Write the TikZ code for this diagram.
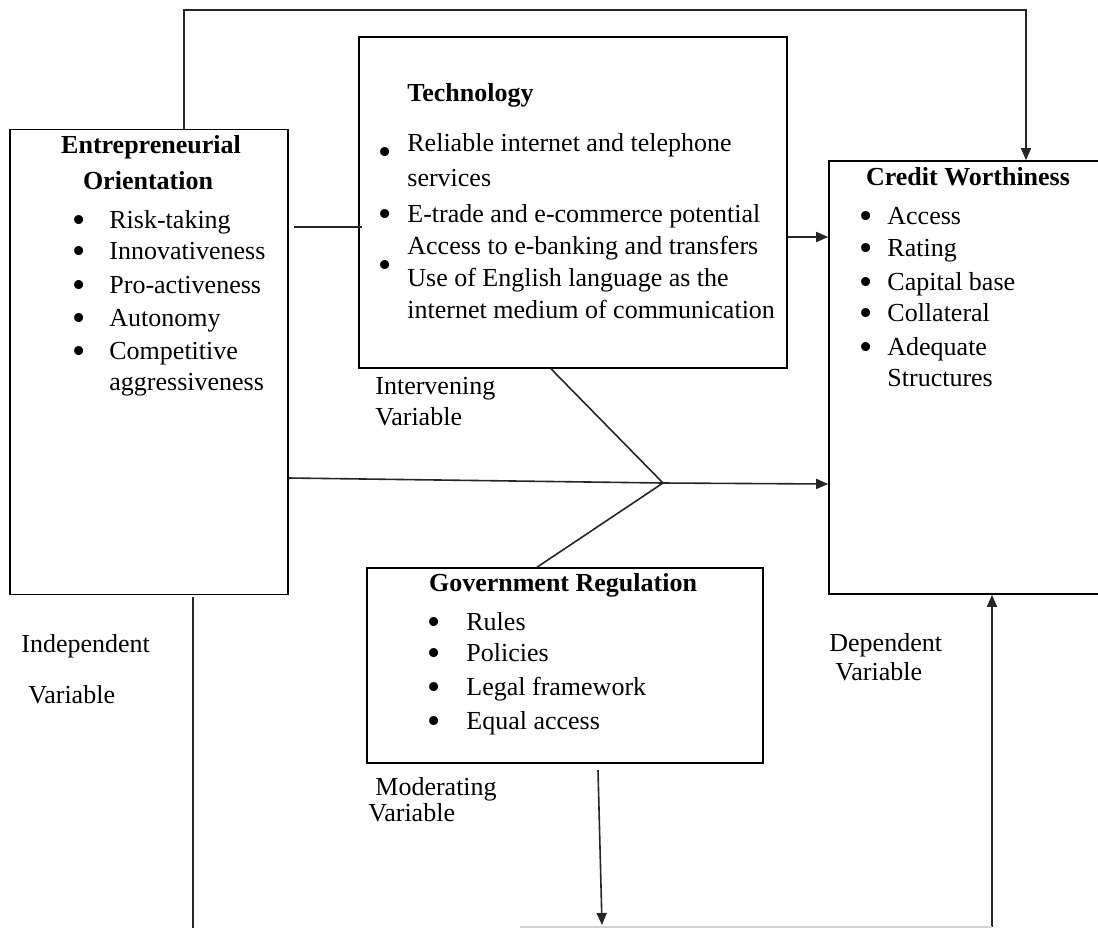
\documentclass[tikz,border=0pt]{standalone}
\usepackage{fontspec}
\setmainfont{Liberation Serif}
\usetikzlibrary{arrows.meta,positioning}
\newcommand{\bul}{\raisebox{-2.2pt}[0pt][0pt]{\scalebox{1.45}{\textbullet}}}
\newcommand{\itm}[2]{\makebox[#1][l]{\bul}#2}

\begin{document}
\begin{tikzpicture}[x=0.5pt,y=-0.5pt,
		box/.style={draw,line width=0.8pt,inner sep=0pt},
		txt/.style={anchor=base west,inner sep=0pt,font=\fontsize{13}{16}\selectfont},
		head/.style={anchor=base,inner sep=0pt,font=\fontsize{13}{16}\selectfont\bfseries},
		link/.style={line width=0.8pt,black!85},
		>={Triangle[length=6pt,width=5pt]}]
		\useasboundingbox (0,0) rectangle (1098,928);
		\clip (0,0) rectangle (1098,928);
		% boxes
		\node[box,minimum width=139pt,minimum height=232.5pt] (eo) at (149,362) {};
		\node[box,minimum width=214pt,minimum height=165.5pt] (tech) at (573,202.5) {};
		\node[box,minimum width=140.5pt,minimum height=216.5pt] (cw) at (969.5,377.5) {};
		\node[box,minimum width=198pt,minimum height=97.5pt] (gr) at (565,665.5) {};
		% entrepreneurial orientation
		\node[head] (eoA) at (151,153) {Entrepreneurial};
		\node[head] (eoB) at (148,189) {Orientation};
		\node[txt] (eo1) at (72,228) {\itm{18.5pt}{Risk-taking}};
		\node[txt] (eo2) at (72,259) {\itm{18.5pt}{Innovativeness}};
		\node[txt] (eo3) at (72,293) {\itm{18.5pt}{Pro-activeness}};
		\node[txt] (eo4) at (72,326) {\itm{18.5pt}{Autonomy}};
		\node[txt] (eo5) at (72,359) {\itm{18.5pt}{Competitive}};
		\node[txt] (eo6) at (109,390) {aggressiveness};
		% technology
		\node[head,anchor=base west] (teA) at (407,101) {Technology};
		\node[txt] (tb1) at (378,160) {\bul};
		\node[txt] (tb2) at (378,222) {\bul};
		\node[txt] (tb3) at (378,273) {\bul};
		\node[txt] (te1) at (407,151) {Reliable internet and telephone};
		\node[txt] (te2) at (407,186) {services};
		\node[txt] (te3) at (407,222) {E-trade and e-commerce potential};
		\node[txt] (te4) at (407,254) {Access to e-banking and transfers};
		\node[txt] (te5) at (407,286) {Use of English language as the};
		\node[txt] (te6) at (407,318) {internet medium of communication};
		% credit worthiness
		\node[head] (cwA) at (968,185) {Credit Worthiness};
		\node[txt] (cw1) at (859,224) {\itm{14pt}{Access}};
		\node[txt] (cw2) at (859,256) {\itm{14pt}{Rating}};
		\node[txt] (cw3) at (859,290) {\itm{14pt}{Capital base}};
		\node[txt] (cw4) at (859,321) {\itm{14pt}{Collateral}};
		\node[txt] (cw5) at (859,355) {\itm{14pt}{Adequate}};
		\node[txt] (cw6) at (887,386) {Structures};
		% government regulation
		\node[head] (grA) at (563,591) {Government Regulation};
		\node[txt] (gr1) at (427,630) {\itm{19.5pt}{Rules}};
		\node[txt] (gr2) at (427,661) {\itm{19.5pt}{Policies}};
		\node[txt] (gr3) at (427,695) {\itm{19.5pt}{Legal framework}};
		\node[txt] (gr4) at (427,729) {\itm{19.5pt}{Equal access}};
		% variable labels
		\node[txt] (ivA) at (375,394) {Intervening};
		\node[txt] (ivB) at (375,425) {Variable};
		\node[txt] (inA) at (21,652) {Independent};
		\node[txt] (inB) at (28,703) {Variable};
		\node[txt] (dvA) at (829,651) {Dependent};
		\node[txt] (dvB) at (835,680) {Variable};
		\node[txt] (mvA) at (375,795) {Moderating};
		\node[txt] (mvB) at (368,821) {Variable};
		% connectors
		\coordinate (topL) at (184,10);
		\coordinate (topR) at (1026,10);
		\coordinate (jn) at (663,483);
		\coordinate (eoT) at (294,227);
		\coordinate (teC) at (787,237);
		\coordinate (eoC) at (288,478);
		\coordinate (grD) at (598,770);
		\coordinate (grE) at (602,925);
		\coordinate (eoD) at (193,597);
		\coordinate (eoE) at (193,928);
		\coordinate (cwU) at (992,927);
		\coordinate (btm) at (520,927);
		\draw[link,->] (eo.north -| topL) -- (topL) -- (topR) -- (cw.north -| topR);
		\draw[link] (eoT) -- ([xshift=2pt]tech.west |- eoT);
		\draw[link,->] (tech.east |- teC) -- (cw.west |- teC);
		\draw[link] (eo.east |- eoC) -- (jn);
		\draw[link,->] (jn) -- (cw.west |- 0,484);
		\draw[link] (tech.south -| 551,0) -- (jn);
		\draw[link] (gr.north -| 537,0) -- (jn);
		\draw[link,->] (grD) -- (grE);
		\draw[link] (eoD) -- (eoE);
		\draw[link,->] (cwU) -- (cw.south -| cwU);
		\draw[gray!35,line width=0.6pt] (btm) -- (cwU);
	\end{tikzpicture}
\end{document}
